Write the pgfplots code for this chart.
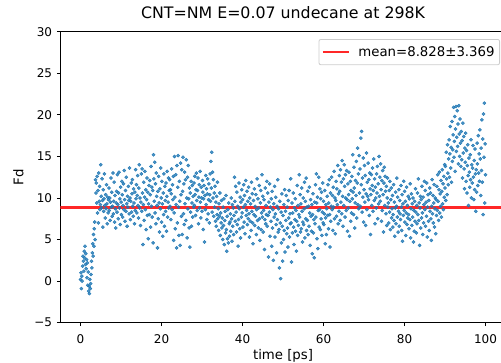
\documentclass[border=0pt]{standalone}
\usepackage{fontspec}
\setmainfont{DejaVu Sans}
\usepackage{pgfplots}
\pgfplotsset{compat=1.18}
\definecolor{mplblue}{RGB}{31,119,180}
\definecolor{legframe}{RGB}{204,204,204}
\definecolor{mplred}{RGB}{255,40,40}
\begin{document}
\begin{tikzpicture}
\path[use as bounding box] (0,0) rectangle (501pt,362pt);
\begin{axis}[
  at={(60.3pt,39.3pt)}, anchor=south west,
  scale only axis, width=445.5pt, height=291pt,
  xmin=-5, xmax=105, ymin=-5, ymax=30,
  axis x line*=box, axis y line*=left,
  xtick pos=lower, ytick pos=left,
  tick align=outside, major tick length=3.5pt,
  axis line style={line width=0.8pt, black},
  every tick/.style={black, line width=0.8pt},
  xtick={0,20,40,60,80,100}, xticklabels={0,20,40,60,80,100},
  ytick={-5,0,5,10,15,20,25,30}, yticklabels={−5,0,5,10,15,20,25,30},
  tick label style={font=\fontsize{12}{14}\selectfont},
  xticklabel style={anchor=base, yshift=-17.5pt},
  yticklabel style={anchor=east, inner sep=0pt, xshift=-4.5pt},
  xlabel={time [ps]},
  xlabel style={at={([yshift=-37pt]axis description cs:0.5,0)}, anchor=base, font=\fontsize{13.3}{16}\selectfont},
  ylabel={Fd},
  ylabel style={at={([xshift=-37pt]axis description cs:0,0.5)}, anchor=base, rotate=0, font=\fontsize{13.3}{16}\selectfont},
  title={CNT=NM E=0.07 undecane at 298K},
  title style={at={([yshift=7.7pt]axis description cs:0.5,1)}, anchor=base, font=\fontsize{15.8}{19}\selectfont},
  legend style={at={([xshift=-5.8pt,yshift=-7.3pt]axis description cs:1,1)}, anchor=north east,
    draw=legframe, line width=0.8pt, rounded corners=2pt, fill=white, fill opacity=0.8, text opacity=1,
    font=\fontsize{13.3}{16}\selectfont, inner xsep=3pt, inner ysep=5pt},
  legend image code/.code={\draw[#1, line width=2pt] (0pt,0pt) -- (26pt,0pt); \path (32pt,0pt);},
  legend cell align=left,
]
\addplot[only marks, mark=*, color=mplblue, mark size=1.6pt, mark options={solid, draw=none, fill=mplblue, fill opacity=0.8}, forget plot] coordinates {
(0.0,0.2)(0.1,1.0)(0.2,-0.9)(0.3,0.6)(0.4,0.0)(0.5,1.8)(0.6,3.0)(0.7,2.4)(0.8,1.2)(0.9,3.6)
(1.0,2.8)(1.1,4.2)(1.2,2.0)(1.3,3.3)(1.4,1.5)(1.5,2.6)(1.6,0.4)(1.7,2.2)(1.8,-0.5)(1.9,1.1)
(2.0,-1.2)(2.1,-0.6)(2.2,-1.5)(2.3,0.2)(2.4,-0.9)(2.5,-0.3)(2.6,0.8)(2.7,2.4)(2.8,1.6)(2.9,3.4)
(3.0,4.5)(3.1,3.0)(3.2,5.6)(3.3,4.2)(3.4,6.3)(3.5,7.1)(3.6,5.0)(3.7,12.2)(3.8,10.6)(3.9,11.8)
(4.0,9.4)(4.1,12.6)(4.2,8.2)(4.3,10.9)(4.4,7.0)(4.5,13.0)(4.6,9.6)(4.7,11.4)(4.8,8.6)(4.9,9.2)
(5.0,14.0)(5.1,10.2)(5.2,8.8)(5.3,12.3)(5.4,9.7)(5.5,6.5)(5.6,11.0)(5.7,8.4)(5.8,9.9)(5.9,12.9)
(6.0,9.1)(6.1,7.6)(6.2,10.4)(6.3,8.7)(6.4,11.6)(6.5,9.3)(6.6,6.9)(6.7,10.1)(6.8,8.2)(6.9,9.8)
(7.0,11.2)(7.1,8.5)(7.2,10.0)(7.3,7.3)(7.4,9.5)(7.5,12.4)(7.6,8.9)(7.7,10.7)(7.8,7.8)(7.9,9.0)
(8.0,13.0)(8.1,8.1)(8.2,9.6)(8.3,11.9)(8.4,7.1)(8.5,10.3)(8.6,8.7)(8.7,6.4)(8.8,9.4)(8.9,10.8)
(9.0,8.3)(9.1,12.8)(9.2,9.2)(9.3,7.5)(9.4,10.6)(9.5,13.1)(9.6,8.8)(9.7,9.9)(9.8,6.8)(9.9,11.3)
(10.0,9.5)(10.1,8.0)(10.2,12.0)(10.3,10.4)(10.4,7.7)(10.5,9.1)(10.6,11.7)(10.7,8.6)(10.8,13.3)(10.9,9.8)
(11.0,7.2)(11.1,10.9)(11.2,8.4)(11.3,12.5)(11.4,9.3)(11.5,6.6)(11.6,10.2)(11.7,8.9)(11.8,11.4)(11.9,9.7)
(12.0,8.1)(12.1,13.6)(12.2,10.0)(12.3,7.4)(12.4,9.6)(12.5,11.8)(12.6,8.3)(12.7,10.5)(12.8,12.2)(12.9,9.0)
(13.0,7.8)(13.1,11.1)(13.2,9.4)(13.3,6.9)(13.4,10.7)(13.5,8.5)(13.6,13.4)(13.7,9.9)(13.8,11.6)(13.9,8.2)
(14.0,10.3)(14.1,12.7)(14.2,9.1)(14.3,7.6)(14.4,11.2)(14.5,14.0)(14.6,8.8)(14.7,10.0)(14.8,6.7)(14.9,9.5)
(15.0,12.9)(15.1,8.4)(15.2,13.5)(15.3,10.6)(15.4,4.4)(15.5,9.2)(15.6,11.9)(15.7,7.3)(15.8,10.1)(15.9,13.2)
(16.0,8.6)(16.1,11.0)(16.2,6.2)(16.3,9.8)(16.4,12.4)(16.5,7.9)(16.6,10.7)(16.7,5.1)(16.8,9.3)(16.9,11.5)
(17.0,8.0)(17.1,12.1)(17.2,10.4)(17.3,6.5)(17.4,13.8)(17.5,9.0)(17.6,11.3)(17.7,7.7)(17.8,10.9)(17.9,4.6)
(18.0,15.2)(18.1,12.3)(18.2,9.6)(18.3,14.3)(18.4,8.2)(18.5,11.7)(18.6,6.9)(18.7,13.0)(18.8,10.2)(18.9,9.1)
(19.0,4.0)(19.1,10.8)(19.2,7.5)(19.3,12.6)(19.4,9.4)(19.5,5.9)(19.6,11.1)(19.7,8.7)(19.8,13.6)(19.9,10.0)
(20.0,7.1)(20.1,12.0)(20.2,9.3)(20.3,5.4)(20.4,10.6)(20.5,8.0)(20.6,12.9)(20.7,6.6)(20.8,11.4)(20.9,9.7)
(21.0,8.4)(21.1,11.8)(21.2,6.0)(21.3,10.2)(21.4,13.2)(21.5,7.7)(21.6,9.5)(21.7,12.4)(21.8,8.8)(21.9,10.9)
(22.0,12.2)(22.1,9.0)(22.2,11.0)(22.3,7.4)(22.4,10.5)(22.5,13.5)(22.6,8.6)(22.7,11.6)(22.8,9.8)(22.9,12.6)
(23.0,4.9)(23.1,8.2)(23.2,15.0)(23.3,10.1)(23.4,6.3)(23.5,12.8)(23.6,9.2)(23.7,4.0)(23.8,13.9)(23.9,7.0)
(24.0,11.3)(24.1,15.1)(24.2,8.9)(24.3,5.5)(24.4,12.0)(24.5,9.6)(24.6,4.3)(24.7,14.2)(24.8,10.4)(24.9,7.8)
(25.0,13.4)(25.1,5.6)(25.2,10.8)(25.3,14.9)(25.4,8.1)(25.5,11.7)(25.6,6.8)(25.7,13.1)(25.8,9.3)(25.9,12.2)
(26.0,7.3)(26.1,14.6)(26.2,10.0)(26.3,5.2)(26.4,12.5)(26.5,8.7)(26.6,13.9)(26.7,9.9)(26.8,6.4)(26.9,11.2)
(27.0,4.1)(27.1,10.6)(27.2,8.3)(27.3,12.0)(27.4,6.6)(27.5,9.4)(27.6,11.5)(27.7,7.7)(27.8,10.2)(27.9,8.9)
(28.0,11.8)(28.1,9.1)(28.2,12.6)(28.3,10.4)(28.4,7.9)(28.5,11.0)(28.6,13.0)(28.7,9.7)(28.8,8.5)(28.9,10.9)
(29.0,12.4)(29.1,6.9)(29.2,10.1)(29.3,11.6)(29.4,8.8)(29.5,13.2)(29.6,9.5)(29.7,7.6)(29.8,11.3)(29.9,10.0)
(30.0,8.4)(30.1,12.1)(30.2,10.7)(30.3,6.2)(30.4,9.9)(30.5,11.5)(30.6,4.7)(30.7,10.3)(30.8,8.6)(30.9,12.7)
(31.0,9.2)(31.1,11.1)(31.2,7.4)(31.3,10.5)(31.4,12.3)(31.5,8.1)(31.6,9.8)(31.7,11.7)(31.8,7.0)(31.9,10.4)
(32.0,12.9)(32.1,9.6)(32.2,14.4)(32.3,11.2)(32.4,15.5)(32.5,8.3)(32.6,13.1)(32.7,10.0)(32.8,12.2)(32.9,7.8)
(33.0,10.6)(33.1,8.9)(33.2,11.4)(33.3,7.2)(33.4,9.5)(33.5,6.6)(33.6,10.2)(33.7,8.0)(33.8,11.9)(33.9,7.5)
(34.0,8.7)(34.1,6.1)(34.2,9.3)(34.3,7.8)(34.4,10.6)(34.5,5.5)(34.6,8.2)(34.7,7.0)(34.8,9.7)(34.9,6.4)
(35.0,7.6)(35.1,5.0)(35.2,8.9)(35.3,6.7)(35.4,9.9)(35.5,4.4)(35.6,7.3)(35.7,8.4)(35.8,5.8)(35.9,10.3)
(36.0,6.2)(36.1,3.6)(36.2,7.8)(36.3,5.1)(36.4,8.6)(36.5,4.6)(36.6,9.4)(36.7,6.9)(36.8,5.4)(36.9,7.1)
(37.0,8.1)(37.1,6.0)(37.2,10.0)(37.3,7.5)(37.4,4.8)(37.5,9.2)(37.6,6.6)(37.7,8.8)(37.8,5.6)(37.9,7.9)
(38.0,12.5)(38.1,9.6)(38.2,7.2)(38.3,11.4)(38.4,8.3)(38.5,5.9)(38.6,10.7)(38.7,6.8)(38.8,9.0)(38.9,4.2)
(39.0,7.4)(39.1,11.8)(39.2,8.7)(39.3,6.3)(39.4,10.1)(39.5,5.2)(39.6,9.5)(39.7,7.7)(39.8,11.0)(39.9,8.2)
(40.0,9.8)(40.1,6.5)(40.2,8.9)(40.3,11.6)(40.4,7.1)(40.5,10.3)(40.6,5.7)(40.7,9.2)(40.8,12.1)(40.9,7.9)
(41.0,8.5)(41.1,10.8)(41.2,6.8)(41.3,9.6)(41.4,7.5)(41.5,11.3)(41.6,8.1)(41.7,5.3)(41.8,10.0)(41.9,7.2)
(42.0,9.3)(42.1,6.1)(42.2,11.9)(42.3,8.4)(42.4,10.5)(42.5,7.0)(42.6,4.5)(42.7,9.7)(42.8,8.0)(42.9,11.1)
(43.0,6.7)(43.1,9.0)(43.2,7.8)(43.3,10.4)(43.4,5.6)(43.5,8.6)(43.6,12.3)(43.7,7.3)(43.8,9.9)(43.9,6.4)
(44.0,8.8)(44.1,11.5)(44.2,7.5)(44.3,4.9)(44.4,9.4)(44.5,10.9)(44.6,6.2)(44.7,8.2)(44.8,12.8)(44.9,7.7)
(45.0,10.2)(45.1,5.9)(45.2,8.5)(45.3,9.8)(45.4,3.8)(45.5,7.4)(45.6,11.2)(45.7,6.9)(45.8,9.1)(45.9,8.0)
(46.0,12.0)(46.1,6.6)(46.2,10.6)(46.3,7.9)(46.4,2.9)(46.5,9.5)(46.6,8.3)(46.7,11.7)(46.8,5.4)(46.9,8.9)
(47.0,7.2)(47.1,9.9)(47.2,4.2)(47.3,10.8)(47.4,6.4)(47.5,8.6)(47.6,2.5)(47.7,9.3)(47.8,7.7)(47.9,11.4)
(48.0,5.3)(48.1,8.1)(48.2,10.1)(48.3,6.8)(48.4,3.4)(48.5,9.0)(48.6,7.4)(48.7,12.2)(48.8,5.9)(48.9,8.7)
(49.0,6.2)(49.1,1.6)(49.2,9.6)(49.3,7.0)(49.4,0.3)(49.5,8.3)(49.6,4.6)(49.7,10.5)(49.8,6.6)(49.9,2.4)
(50.0,7.9)(50.1,5.0)(50.2,9.2)(50.3,6.1)(50.4,11.0)(50.5,3.5)(50.6,8.4)(50.7,7.3)(50.8,10.3)(50.9,5.7)
(51.0,8.9)(51.1,6.4)(51.2,4.1)(51.3,9.7)(51.4,7.6)(51.5,10.9)(51.6,5.3)(51.7,8.1)(51.8,6.9)(51.9,12.3)
(52.0,7.0)(52.1,2.3)(52.2,9.4)(52.3,5.8)(52.4,8.2)(52.5,10.6)(52.6,6.5)(52.7,4.4)(52.8,8.8)(52.9,7.4)
(53.0,9.9)(53.1,6.0)(53.2,8.5)(53.3,3.6)(53.4,7.2)(53.5,11.5)(53.6,5.5)(53.7,9.1)(53.8,6.7)(53.9,8.0)
(54.0,12.8)(54.1,7.7)(54.2,10.4)(54.3,5.9)(54.4,9.3)(54.5,6.3)(54.6,11.2)(54.7,8.4)(54.8,4.7)(54.9,7.1)
(55.0,10.0)(55.1,6.8)(55.2,8.7)(55.3,11.9)(55.4,5.2)(55.5,9.6)(55.6,7.5)(55.7,12.4)(55.8,6.1)(55.9,8.9)
(56.0,7.3)(56.1,10.8)(56.2,5.6)(56.3,9.0)(56.4,6.6)(56.5,11.3)(56.6,8.2)(56.7,4.3)(56.8,9.8)(56.9,7.8)
(57.0,6.0)(57.1,9.2)(57.2,3.3)(57.3,8.0)(57.4,10.5)(57.5,5.8)(57.6,7.4)(57.7,2.8)(57.8,9.5)(57.9,6.9)
(58.0,11.6)(58.1,7.7)(58.2,12.9)(58.3,9.4)(58.4,5.1)(58.5,10.1)(58.6,3.9)(58.7,8.5)(58.8,12.5)(58.9,6.5)
(59.0,8.6)(59.1,11.1)(59.2,6.2)(59.3,9.9)(59.4,7.5)(59.5,10.7)(59.6,5.5)(59.7,8.3)(59.8,11.8)(59.9,7.0)
(60.0,9.6)(60.1,6.8)(60.2,8.1)(60.3,10.9)(60.4,4.5)(60.5,7.6)(60.6,9.2)(60.7,5.6)(60.8,8.7)(60.9,10.2)
(61.0,7.9)(61.1,11.6)(61.2,6.3)(61.3,9.4)(61.4,12.2)(61.5,8.0)(61.6,4.1)(61.7,10.6)(61.8,7.2)(61.9,9.0)
(62.0,12.5)(62.1,8.6)(62.2,10.3)(62.3,6.1)(62.4,11.3)(62.5,8.9)(62.6,13.2)(62.7,7.5)(62.8,10.0)(62.9,5.7)
(63.0,9.7)(63.1,12.0)(63.2,7.8)(63.3,11.1)(63.4,9.2)(63.5,13.9)(63.6,6.9)(63.7,10.5)(63.8,8.4)(63.9,12.7)
(64.0,10.8)(64.1,7.3)(64.2,13.4)(64.3,9.5)(64.4,11.9)(64.5,8.1)(64.6,14.5)(64.7,10.2)(64.8,6.6)(64.9,12.3)
(65.0,9.1)(65.1,14.0)(65.2,11.4)(65.3,7.7)(65.4,12.8)(65.5,10.0)(65.6,8.5)(65.7,13.3)(65.8,9.8)(65.9,6.0)
(66.0,11.7)(66.1,8.8)(66.2,10.4)(66.3,13.1)(66.4,5.4)(66.5,9.6)(66.6,12.0)(66.7,7.2)(66.8,10.9)(66.9,8.2)
(67.0,12.6)(67.1,9.9)(67.2,15.2)(67.3,10.7)(67.4,8.0)(67.5,13.7)(67.6,11.2)(67.7,6.4)(67.8,9.4)(67.9,12.1)
(68.0,10.3)(68.1,14.4)(68.2,7.6)(68.3,11.8)(68.4,16.0)(68.5,9.2)(68.6,12.9)(68.7,8.7)(68.8,15.1)(68.9,10.6)
(69.0,13.5)(69.1,9.0)(69.2,17.2)(69.3,11.6)(69.4,18.0)(69.5,8.3)(69.6,12.4)(69.7,10.1)(69.8,14.8)(69.9,7.1)
(70.0,11.0)(70.1,13.9)(70.2,9.5)(70.3,12.7)(70.4,6.7)(70.5,10.5)(70.6,15.4)(70.7,8.6)(70.8,11.9)(70.9,10.2)
(71.0,14.2)(71.1,9.8)(71.2,12.2)(71.3,7.9)(71.4,13.0)(71.5,11.1)(71.6,5.6)(71.7,10.4)(71.8,12.8)(71.9,9.1)
(72.0,11.5)(72.1,13.6)(72.2,8.4)(72.3,10.9)(72.4,14.7)(72.5,9.7)(72.6,12.3)(72.7,6.9)(72.8,11.3)(72.9,10.0)
(73.0,8.8)(73.1,12.9)(73.2,10.6)(73.3,13.8)(73.4,7.5)(73.5,11.7)(73.6,9.3)(73.7,15.0)(73.8,10.2)(73.9,12.5)
(74.0,9.6)(74.1,14.1)(74.2,11.0)(74.3,7.2)(74.4,12.1)(74.5,8.5)(74.6,13.3)(74.7,10.4)(74.8,5.9)(74.9,11.8)
(75.0,13.7)(75.1,9.1)(75.2,12.6)(75.3,10.8)(75.4,8.1)(75.5,11.4)(75.6,6.7)(75.7,10.0)(75.8,12.4)(75.9,8.9)
(76.0,9.4)(76.1,7.0)(76.2,10.9)(76.3,8.3)(76.4,12.0)(76.5,6.2)(76.6,9.8)(76.7,11.2)(76.8,7.6)(76.9,8.7)
(77.0,10.3)(77.1,6.5)(77.2,8.0)(77.3,11.6)(77.4,7.3)(77.5,9.5)(77.6,5.4)(77.7,8.8)(77.8,10.7)(77.9,6.9)
(78.0,9.0)(78.1,12.4)(78.2,7.7)(78.3,10.1)(78.4,5.9)(78.5,8.4)(78.6,11.0)(78.7,6.6)(78.8,9.7)(78.9,8.1)
(79.0,7.4)(79.1,11.5)(79.2,8.9)(79.3,6.1)(79.4,10.4)(79.5,4.8)(79.6,9.3)(79.7,7.9)(79.8,12.0)(79.9,8.5)
(80.0,10.8)(80.1,7.1)(80.2,9.6)(80.3,5.5)(80.4,8.2)(80.5,11.3)(80.6,6.8)(80.7,9.1)(80.8,7.6)(80.9,10.2)
(81.0,8.0)(81.1,6.3)(81.2,9.9)(81.3,7.4)(81.4,11.7)(81.5,5.2)(81.6,8.7)(81.7,10.5)(81.8,6.7)(81.9,9.3)
(82.0,7.7)(82.1,10.0)(82.2,4.7)(82.3,8.5)(82.4,6.0)(82.5,9.6)(82.6,7.2)(82.7,11.1)(82.8,8.3)(82.9,5.8)
(83.0,9.1)(83.1,6.9)(83.2,10.6)(83.3,8.0)(83.4,12.3)(83.5,7.3)(83.6,9.4)(83.7,4.3)(83.8,8.8)(83.9,10.2)
(84.0,6.4)(84.1,9.8)(84.2,7.6)(84.3,11.4)(84.4,8.2)(84.5,5.6)(84.6,10.1)(84.7,7.0)(84.8,9.2)(84.9,12.0)
(85.0,8.6)(85.1,10.9)(85.2,6.6)(85.3,9.5)(85.4,7.8)(85.5,11.8)(85.6,5.3)(85.7,8.9)(85.8,10.4)(85.9,7.2)
(86.0,9.7)(86.1,6.1)(86.2,11.2)(86.3,8.4)(86.4,10.6)(86.5,7.5)(86.6,4.9)(86.7,9.0)(86.8,12.2)(86.9,8.1)
(87.0,10.3)(87.1,7.0)(87.2,9.4)(87.3,11.6)(87.4,6.5)(87.5,8.7)(87.6,10.0)(87.7,5.7)(87.8,9.8)(87.9,7.9)
(88.0,11.4)(88.1,8.5)(88.2,12.8)(88.3,9.6)(88.4,7.3)(88.5,11.0)(88.6,13.1)(88.7,8.2)(88.8,10.5)(88.9,9.0)
(89.0,12.1)(89.1,7.7)(89.2,10.8)(89.3,13.4)(89.4,9.3)(89.5,11.7)(89.6,8.6)(89.7,12.6)(89.8,10.1)(89.9,14.0)
(90.0,11.2)(90.1,13.8)(90.2,9.7)(90.3,15.5)(90.4,12.3)(90.5,10.4)(90.6,16.4)(90.7,13.0)(90.8,11.6)(90.9,14.7)
(91.0,17.0)(91.1,12.5)(91.2,15.3)(91.3,18.6)(91.4,13.6)(91.5,16.1)(91.6,11.9)(91.7,19.2)(91.8,14.4)(91.9,15.8)
(92.0,17.6)(92.1,20.9)(92.2,14.9)(92.3,16.8)(92.4,19.8)(92.5,13.2)(92.6,18.3)(92.7,21.0)(92.8,15.6)(92.9,17.3)
(93.0,20.5)(93.1,16.2)(93.2,18.9)(93.3,14.1)(93.4,21.1)(93.5,17.7)(93.6,15.0)(93.7,19.5)(93.8,16.6)(93.9,13.8)
(94.0,18.0)(94.1,14.6)(94.2,16.9)(94.3,12.4)(94.4,19.0)(94.5,15.4)(94.6,17.4)(94.7,13.5)(94.8,11.1)(94.9,16.0)
(95.0,14.3)(95.1,17.8)(95.2,12.0)(95.3,15.7)(95.4,10.6)(95.5,13.9)(95.6,16.4)(95.7,12.7)(95.8,9.1)(95.9,14.8)
(96.0,13.1)(96.1,11.3)(96.2,15.2)(96.3,12.2)(96.4,17.0)(96.5,10.0)(96.6,14.0)(96.7,11.8)(96.8,13.6)(96.9,16.3)
(97.0,12.5)(97.1,9.8)(97.2,14.5)(97.3,11.0)(97.4,15.9)(97.5,12.9)(97.6,8.4)(97.7,13.4)(97.8,10.7)(97.9,16.6)
(98.0,14.1)(98.1,11.5)(98.2,17.5)(98.3,13.0)(98.4,15.3)(98.5,12.0)(98.6,18.2)(98.7,14.7)(98.8,10.3)(98.9,16.0)
(99.0,13.3)(99.1,19.4)(99.2,11.9)(99.3,17.1)(99.4,8.0)(99.5,20.1)(99.6,14.9)(99.7,21.4)(99.8,9.4)(99.9,16.5)
(100.0,12.8)
};
\addplot[mplred, line width=3pt] coordinates {(-5,8.828)(105,8.828)};
\addlegendentry{mean=8.828±3.369}
\end{axis}
\end{tikzpicture}
\end{document}
